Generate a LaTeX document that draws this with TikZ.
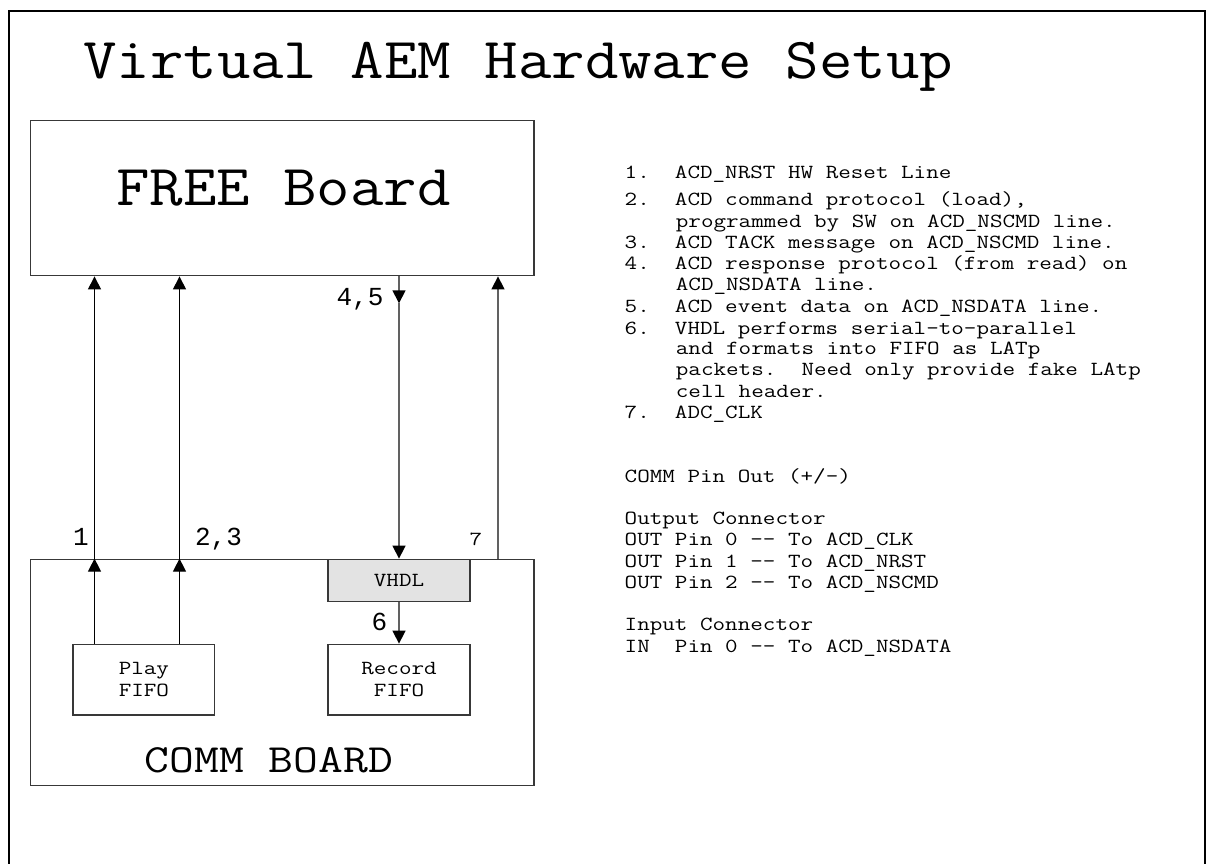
\documentclass[tikz,border=0pt]{standalone}
\usepackage{fontspec}
\usepackage{graphicx}
\usetikzlibrary{arrows.meta}
\newfontfamily\lblfont{Liberation Mono}
% widen Latin Modern Mono to Courier-like proportions
\newcommand\hx[2][1.22]{\scalebox{#1}[1]{#2}}
\newcommand\dd{-\kern0pt-}
\frenchspacing
\begin{document}
\begin{tikzpicture}[x=1pt,y=-1pt,
  box/.style={draw=black!78, line width=1.4pt, rectangle, inner sep=0pt},
  small/.style={font=\ttfamily\fontsize{20}{21.6}\selectfont, inner sep=0pt},
  big/.style={font=\ttfamily\fontsize{58}{60}\selectfont, inner sep=0pt, anchor=base west},
  mid/.style={font=\ttfamily\fontsize{40}{42}\selectfont, inner sep=0pt, anchor=base west},
  note/.style={small, anchor=base west},
  num/.style={font=\lblfont\fontsize{26}{26}\selectfont, inner sep=0pt, anchor=base},
  arrowhd/.style={-{Triangle[length=13pt,width=13pt,black]}},
  thinline/.style={arrowhd, draw=black, line width=1.1pt},
  greyline/.style={arrowhd, draw=black!62, line width=1.5pt},
]
\useasboundingbox (0,0) rectangle (1212,864);
\clip (0,0) rectangle (1212,864);

% page frame (runs off the bottom edge)
\draw[line width=2pt] (9,11) rectangle (1205,900);

% title
\node[big] (ttl) at (83,79) {\hx[1.12]{Virtual AEM Hardware Setup}};

% boards
\node[box, minimum width=503.3pt, minimum height=155pt] (free) at (282.25,198.2) {};
\node[big] (freelbl) at (116,205.7) {\hx[1.12]{FREE Board}};

\node[box, minimum width=503.3pt, minimum height=226.4pt] (comm) at (282.25,672.5) {};
\node[mid] (commlbl) at (144.5,772.7) {\hx[1.205]{COMM BOARD}};

% blocks on the COMM board
\node[box, small, fill=black!11, minimum width=142pt, minimum height=42.4pt] (vhdl) at (399,580.5) {\hx{VHDL}};
\node[box, small, align=center, minimum width=141.6pt, minimum height=70.7pt] (play) at (143.9,679.65) {\hx{Play}\\\hx{FIFO}};
\node[box, small, align=center, minimum width=142pt, minimum height=70.7pt] (record) at (399,679.65) {\hx{Record}\\\hx{FIFO}};

% signal columns
\coordinate (xa) at (94.5,0);
\coordinate (xb) at (179.5,0);
\coordinate (xc) at (399,0);
\coordinate (xd) at (498,0);
\coordinate (mid45) at (399,303.3);

\draw[thinline] (play.north -| xa) -- (comm.north -| xa);
\draw[thinline] (comm.north -| xa) -- (free.south -| xa);
\draw[thinline] (play.north -| xb) -- (comm.north -| xb);
\draw[thinline] (comm.north -| xb) -- (free.south -| xb);
\draw[greyline] (free.south -| xc) -- (mid45);
\draw[greyline] (mid45) -- (vhdl.north);
\draw[greyline] (comm.north -| xd) -- (free.south -| xd);
\draw[greyline] (vhdl.south) -- (record.north);

% signal numbers
\node[num] (n1) at (81,545) {1};
\node[num] (n23) at (218.5,545) {2,3};
\node[num] (n45) at (360,305) {4,5};
\node[num] (n6) at (379.5,630) {6};
\node[small, anchor=base] (n7) at (476,545.5) {\hx{7}};

% notes
\node[note] (t1) at (624.5,178.2) {\hx{1.\ \ ACD\_NRST HW Reset Line}};
\node[note] (t2) at (624.5,205.8) {\hx{2.\ \ ACD command protocol (load),}};
\node[note] (t2b) at (675.7,227.2) {\hx{programmed by SW on ACD\_NSCMD line.}};
\node[note] (t3) at (624.5,248.6) {\hx{3.\ \ ACD TACK message on ACD\_NSCMD line.}};
\node[note] (t4) at (624.5,269.8) {\hx{4.\ \ ACD response protocol (from read) on}};
\node[note] (t4b) at (675.7,290.8) {\hx{ACD\_NSDATA line.}};
\node[note] (t5) at (624.5,312.5) {\hx{5.\ \ ACD event data on ACD\_NSDATA line.}};
\node[note] (t6) at (624.5,334.2) {\hx{6.\ \ VHDL performs serial-to-parallel}};
\node[note] (t6b) at (675.7,354.8) {\hx{and formats into FIFO as LATp}};
\node[note] (t6c) at (675.7,375.8) {\hx{packets.\ \ Need only provide fake LAtp}};
\node[note] (t6d) at (675.7,397.5) {\hx{cell header.}};
\node[note] (t7) at (624.5,418.8) {\hx{7.\ \ ADC\_CLK}};

\node[note] (pin) at (624.5,482.5) {\hx{COMM Pin Out (+/-)}};
\node[note] (outc) at (624.5,524.8) {\hx{Output Connector}};
\node[note] (out0) at (624.5,545.8) {\hx{OUT Pin 0 \dd{} To ACD\_CLK}};
\node[note] (out1) at (624.5,567.5) {\hx{OUT Pin 1 \dd{} To ACD\_NRST}};
\node[note] (out2) at (624.5,588.8) {\hx{OUT Pin 2 \dd{} To ACD\_NSCMD}};
\node[note] (inc) at (624.5,630.8) {\hx{Input Connector}};
\node[note] (in0) at (624.5,652.5) {\hx{IN\ \ Pin 0 \dd{} To ACD\_NSDATA}};
\end{tikzpicture}
\end{document}
